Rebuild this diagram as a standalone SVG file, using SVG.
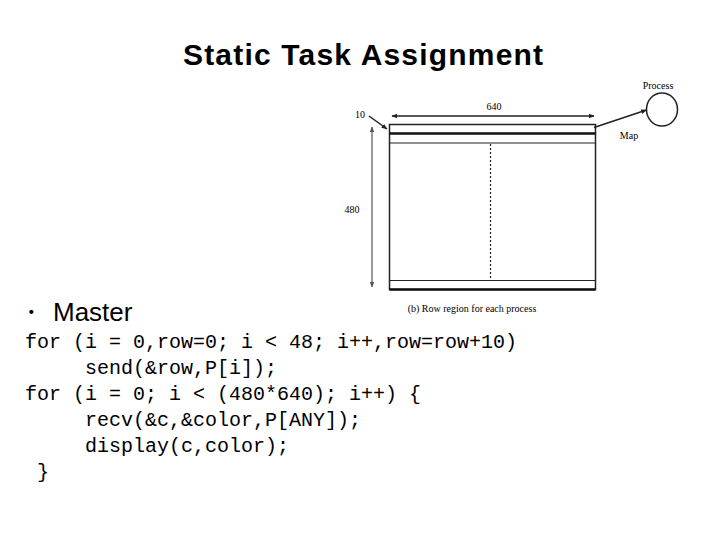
<svg xmlns="http://www.w3.org/2000/svg" width="720" height="540" viewBox="0 0 720 540">
<defs>
<style>
.title{font-family:"Liberation Sans",Arial,sans-serif;font-weight:bold;font-size:30px;fill:#000}
.bullet{font-family:"Liberation Sans",Arial,sans-serif;font-size:26px;fill:#000}
.code{font-family:"Liberation Mono","Courier New",monospace;font-size:20px;fill:#000;white-space:pre}
.fig{font-family:"Liberation Serif","Times New Roman",serif;font-size:10px;fill:#000}
.edge{stroke:#222;stroke-width:1.5;fill:none}
</style>
<marker id="ah" viewBox="0 0 10 10" refX="9" refY="5" markerWidth="6" markerHeight="6" orient="auto-start-reverse" markerUnits="userSpaceOnUse">
<path d="M0,1 L10,5 L0,9 z" fill="#222"/>
</marker>
<marker id="ahg" viewBox="0 0 10 10" refX="9" refY="5" markerWidth="6" markerHeight="6" orient="auto-start-reverse" markerUnits="userSpaceOnUse">
<path d="M0,1 L10,5 L0,9 z" fill="#555"/>
</marker>
</defs>
<rect width="720" height="540" fill="#fff"/>
<text class="title" x="183" y="65" textLength="360" lengthAdjust="spacing">Static Task Assignment</text>

<g id="region">
<rect x="389.5" y="124.5" width="206" height="165" fill="#fff" stroke="#222" stroke-width="1.5"/>
<line x1="389.5" y1="133.5" x2="595.5" y2="133.5" stroke="#111" stroke-width="2.5"/>
<line x1="389.5" y1="143" x2="595.5" y2="143" stroke="#222" stroke-width="1.2"/>
<line x1="389.5" y1="280.5" x2="595.5" y2="280.5" stroke="#222" stroke-width="1.2"/>
<line x1="389.5" y1="289.5" x2="595.5" y2="289.5" stroke="#111" stroke-width="2.5"/>
<line x1="490.5" y1="144" x2="490.5" y2="280" stroke="#222" stroke-width="1.2" stroke-dasharray="2,2"/>
</g>
<g id="process">
<ellipse cx="662" cy="109.5" rx="15.5" ry="16.5" fill="#fff" stroke="#222" stroke-width="1.5"/>
<text class="fig" x="658" y="89" text-anchor="middle">Process</text>
</g>
<g id="labels">
<text class="fig" x="494" y="110" text-anchor="middle">640</text>
<text class="fig" x="360" y="118" text-anchor="middle">10</text>
<text class="fig" x="352" y="213" text-anchor="middle">480</text>
<text class="fig" x="629" y="139" text-anchor="middle">Map</text>
<text class="fig" x="472" y="312" text-anchor="middle">(b) Row region for each process</text>
</g>
<g id="connectors">
<line class="edge" x1="392" y1="116" x2="594" y2="116" marker-start="url(#ah)" marker-end="url(#ah)"/>
<line x1="372" y1="127" x2="372" y2="287" stroke="#777" stroke-width="1.5" marker-start="url(#ahg)" marker-end="url(#ahg)"/>
<line class="edge" x1="369" y1="116" x2="387" y2="129" marker-end="url(#ah)"/>
<line class="edge" x1="594" y1="127.5" x2="646.5" y2="110" marker-end="url(#ah)"/>
</g>

<text class="bullet" x="18" y="321">・</text>
<text class="bullet" x="53" y="321">Master</text>
<text class="code" x="25" y="348" xml:space="preserve">for (i = 0,row=0; i &lt; 48; i++,row=row+10)</text>
<text class="code" x="25" y="374" xml:space="preserve">     send(&amp;row,P[i]);</text>
<text class="code" x="25" y="400" xml:space="preserve">for (i = 0; i &lt; (480*640); i++) {</text>
<text class="code" x="25" y="426" xml:space="preserve">     recv(&amp;c,&amp;color,P[ANY]);</text>
<text class="code" x="25" y="452" xml:space="preserve">     display(c,color);</text>
<text class="code" x="25" y="478" xml:space="preserve"> }</text>
</svg>
